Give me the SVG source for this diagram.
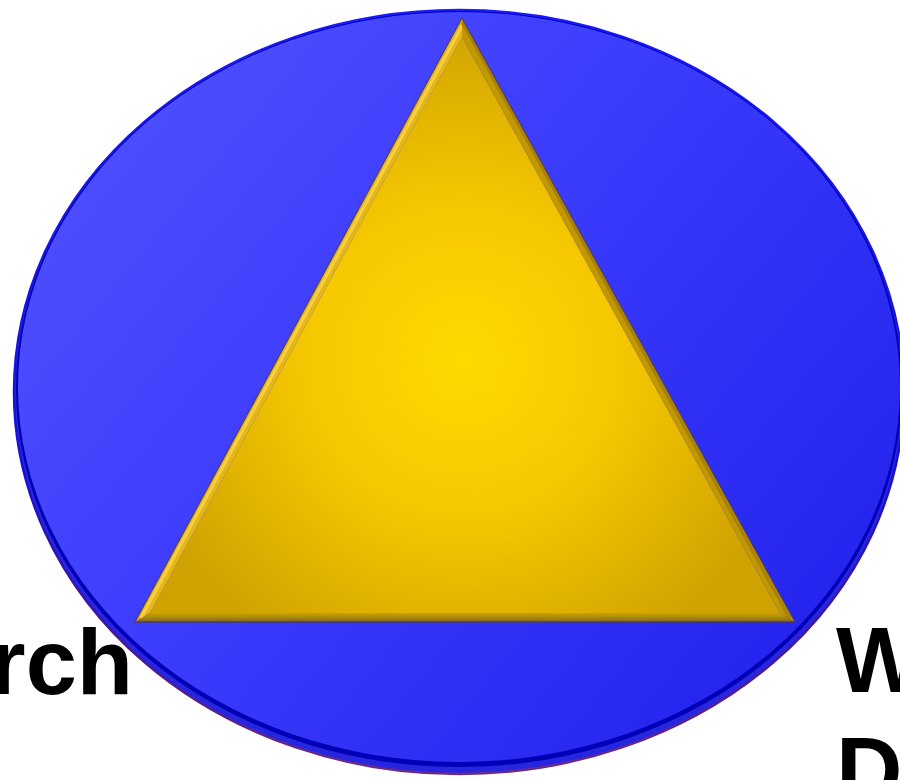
<svg xmlns="http://www.w3.org/2000/svg" width="900" height="780" viewBox="0 0 900 780">
  <defs>
    <linearGradient id="rimStroke" x1="0" y1="0" x2="0" y2="1">
      <stop offset="0" stop-color="#1a1aff"/>
      <stop offset="0.6" stop-color="#1a10d0"/>
      <stop offset="0.85" stop-color="#4a1890"/>
      <stop offset="1" stop-color="#6a2a8a"/>
    </linearGradient>
    <linearGradient id="faceBlue" x1="0" y1="0" x2="1" y2="0.7">
      <stop offset="0" stop-color="#5454ff"/>
      <stop offset="0.5" stop-color="#3c3cfc"/>
      <stop offset="1" stop-color="#2424ee"/>
    </linearGradient>
    <radialGradient id="faceGold" gradientUnits="userSpaceOnUse" cx="463" cy="360" r="340">
      <stop offset="0" stop-color="#ffd900"/>
      <stop offset="0.45" stop-color="#f6c800"/>
      <stop offset="1" stop-color="#cfa200"/>
    </radialGradient>
    <linearGradient id="bottomFacet" gradientUnits="userSpaceOnUse" x1="0" y1="612" x2="0" y2="623">
      <stop offset="0" stop-color="#d4a600"/>
      <stop offset="0.45" stop-color="#b08c08"/>
      <stop offset="0.8" stop-color="#8a7020"/>
      <stop offset="1" stop-color="#6a5638"/>
    </linearGradient>
    <style>
      .label { font-family: "Liberation Sans", Arial, Helvetica, sans-serif; font-weight: bold; font-size: 92px; fill: #000000; }
    </style>
  </defs>

  <rect x="0" y="0" width="900" height="780" fill="#ffffff"/>

  <g id="disk">
    <ellipse cx="459" cy="392" rx="445" ry="382" fill="#2626e0" stroke="url(#rimStroke)" stroke-width="2.5"/>
    <ellipse cx="459" cy="389" rx="443" ry="378" fill="#0000b6"/>
    <ellipse cx="459" cy="387" rx="441" ry="375" fill="url(#faceBlue)"/>
  </g>

  <g id="triangle">
    <polygon points="462,37 150,613 780,613" fill="url(#faceGold)"/>
    <polygon points="462,18 135,622 150,613 462,37" fill="#e6b616"/>
    <polyline points="462,26 141,618" fill="none" stroke="#f8d44a" stroke-width="3" opacity="0.85"/>
    <polygon points="462,18 795,622 780,613 462,37" fill="#c29800"/>
    <polyline points="462,22 790,619" fill="none" stroke="#a07c08" stroke-width="3" opacity="0.8"/>
    <polygon points="135,622 795,622 780,613 150,613" fill="url(#bottomFacet)"/>
    <polygon points="462,18 135,622 795,622" fill="none" stroke="#4e3a5a" stroke-width="1.3" stroke-linejoin="miter" opacity="0.85"/>
  </g>

  <g id="labels">
    <text class="label" x="133" y="694" text-anchor="end">rch</text>
    <text class="label" x="836" y="692">W</text>
    <text class="label" x="836" y="802">D</text>
  </g>
</svg>
